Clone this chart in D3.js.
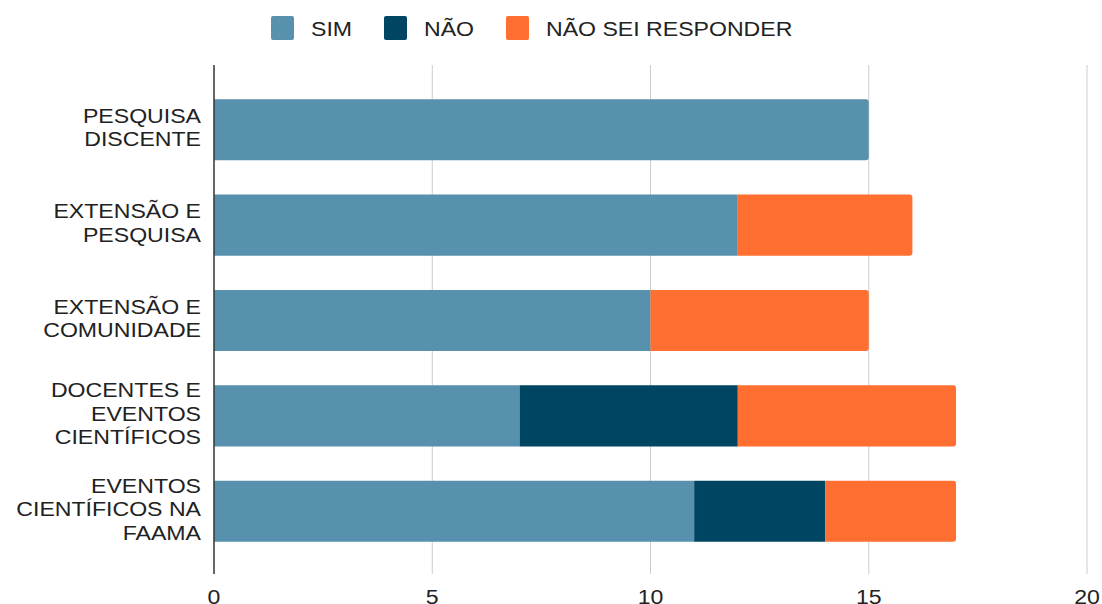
<!DOCTYPE html>
<html>
  <head>
    <meta charset="utf-8">
    <title></title>
    <script src="https://d3js.org/d3.v7.min.js"></script>
    <style type="text/css">
      body {
        margin: 0;
        background: #ffffff;
        font-family: 'Liberation Sans', Arial, sans-serif;
      }
      svg text {
        fill: #222222;
      }
    </style>
  </head>
  <body>
    <div class="chart"></div>
    <script type="text/javascript">
      var categories = [
        ['PESQUISA', 'DISCENTE'],
        ['EXTENSÃO E', 'PESQUISA'],
        ['EXTENSÃO E', 'COMUNIDADE'],
        ['DOCENTES E', 'EVENTOS', 'CIENTÍFICOS'],
        ['EVENTOS', 'CIENTÍFICOS NA', 'FAAMA']
      ];
      var seriesNames = ['SIM', 'NÃO', 'NÃO SEI RESPONDER'];
      var simValues = [15, 12, 10, 7, 11];
      var naoValues = [0, 0, 0, 5, 3];
      var naoSeiValues = [0, 4, 5, 5, 3];
      var tickValues = [0, 5, 10, 15, 20];
      var colors = ['#5891ad', '#004561', '#ff6f31'];

      var width = 1102;
      var height = 604;
      var stretch = 1.1; // text in the picture is a bit wider than plain Arial

      var rows = categories.map(function(c, i) {
        return {key: i, SIM: simValues[i], 'NÃO': naoValues[i], 'NÃO SEI RESPONDER': naoSeiValues[i]};
      });

      var svg = d3.select('.chart').append('svg')
        .attr('width', width)
        .attr('height', height);

      var x = d3.scaleLinear().domain([0, 20]).range([214, 1087]);
      var y = d3.scaleBand()
        .domain(d3.range(categories.length))
        .range([82, 559])
        .paddingInner(0.36)
        .paddingOuter(0.18);

      // grid lines
      svg.append('g').selectAll('line')
        .data(tickValues.slice(1))
        .enter()
        .append('line')
          .attr('x1', function(d){return x(d)})
          .attr('x2', function(d){return x(d)})
          .attr('y1', 65)
          .attr('y2', 574)
          .attr('stroke', '#cccccc')
          .attr('stroke-width', 1);

      // bars
      var stack = d3.stack().keys(seriesNames)(rows);

      var layers = svg.append('g').selectAll('g')
        .data(stack)
        .enter()
        .append('g')
          .attr('fill', function(d, i){return colors[i]});

      layers.selectAll('path')
        .data(function(d){return d.filter(function(s){return s[1] > s[0]})})
        .enter()
        .append('path')
          .attr('d', function(d) {
            var x0 = x(d[0]), x1 = x(d[1]);
            var y0 = y(d.data.key), h = y.bandwidth();
            var total = simValues[d.data.key] + naoValues[d.data.key] + naoSeiValues[d.data.key];
            var r = d[1] === total ? 3 : 0;
            return 'M' + x0 + ',' + y0 +
              'H' + (x1 - r) +
              'Q' + x1 + ',' + y0 + ' ' + x1 + ',' + (y0 + r) +
              'V' + (y0 + h - r) +
              'Q' + x1 + ',' + (y0 + h) + ' ' + (x1 - r) + ',' + (y0 + h) +
              'H' + x0 + 'Z';
          });

      // axis line at zero
      svg.append('line')
        .attr('x1', x(0))
        .attr('x2', x(0))
        .attr('y1', 65)
        .attr('y2', 574)
        .attr('stroke', '#333333')
        .attr('stroke-width', 1.5);

      // x tick labels
      svg.append('g').selectAll('text')
        .data(tickValues)
        .enter()
        .append('text')
          .attr('transform', function(d){return 'translate(' + x(d) + ',604) scale(' + stretch + ',1)'})
          .attr('text-anchor', 'middle')
          .attr('font-size', 21)
          .text(function(d){return d});

      // category labels
      var lineHeight = 23.5;
      var labels = svg.append('g').selectAll('text')
        .data(categories)
        .enter()
        .append('text')
          .attr('transform', 'translate(201,0) scale(' + stretch + ',1)')
          .attr('text-anchor', 'end')
          .attr('font-size', 21);

      labels.selectAll('tspan')
        .data(function(d, i){return d.map(function(t, j){return {t: t, j: j, n: d.length, i: i}})})
        .enter()
        .append('tspan')
          .attr('x', 0)
          .attr('y', function(d) {
            var c = y(d.i) + y.bandwidth() / 2;
            return c + (d.j - (d.n - 1) / 2) * lineHeight + 5;
          })
          .text(function(d){return d.t});

      // legend
      var legendX = [271, 384, 506];
      var legend = svg.append('g').selectAll('g')
        .data(seriesNames)
        .enter()
        .append('g')
          .attr('transform', function(d, i){return 'translate(' + legendX[i] + ',16)'});

      legend.append('rect')
        .attr('width', 23)
        .attr('height', 24)
        .attr('rx', 2)
        .attr('fill', function(d, i){return colors[i]});

      legend.append('text')
        .attr('transform', 'translate(40,19.5) scale(' + stretch + ',1)')
        .attr('font-size', 21)
        .text(function(d){return d});
    </script>
  </body>
</html>
